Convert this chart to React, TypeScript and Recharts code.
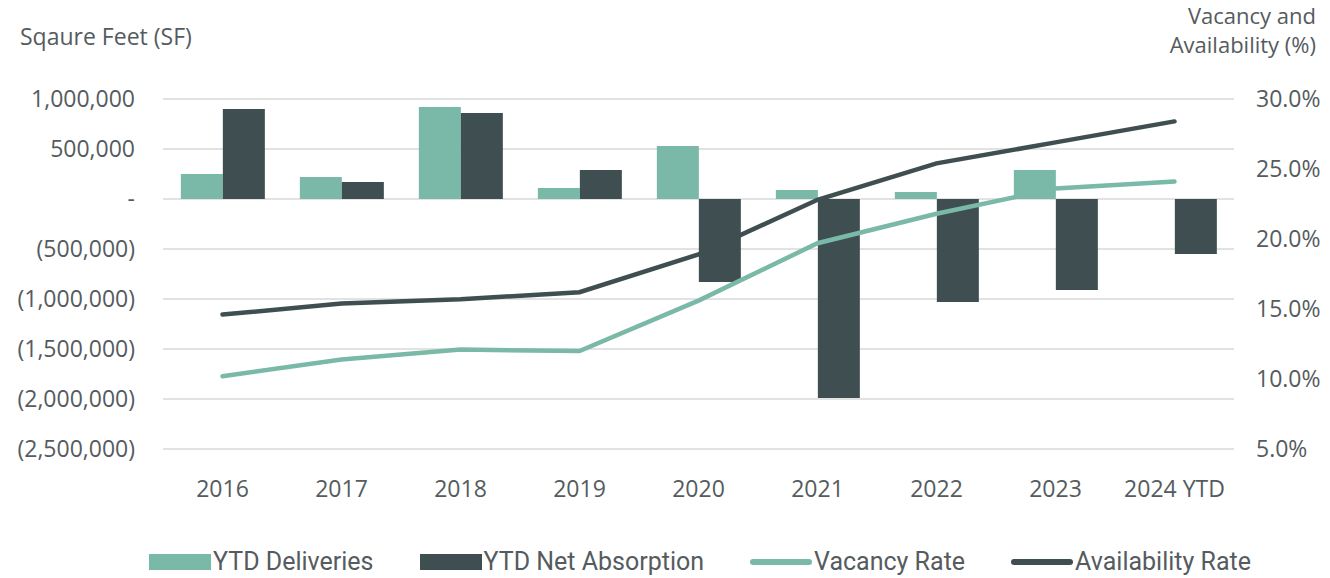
import {
  ComposedChart,
  Bar,
  Line,
  XAxis,
  YAxis,
  CartesianGrid,
  Legend,
} from 'recharts'

const years = ['2016', '2017', '2018', '2019', '2020', '2021', '2022', '2023', '2024 YTD']
const deliveries = [250000, 220000, 920000, 110000, 530000, 90000, 70000, 290000, 0]
const netAbsorption = [900000, 170000, 860000, 290000, -830000, -1990000, -1030000, -910000, -550000]
const vacancyRate = [10.2, 11.4, 12.1, 12.0, 15.6, 19.7, 21.8, 23.6, 24.1]
const availabilityRate = [14.6, 15.4, 15.7, 16.2, 18.9, 22.8, 25.4, 26.9, 28.4]

const leftTicks = [1000000, 500000, 0, -500000, -1000000, -1500000, -2000000, -2500000]
const rightTicks = [30, 25, 20, 15, 10, 5]

const TEAL = '#7ab8a7'
const DARK = '#3f4e50'
const TEXT = '#555b5e'
const FONT = '"Open Sans", "Noto Sans", sans-serif'

const data = years.map((y, i) => ({
  year: y,
  deliveries: deliveries[i],
  absorption: netAbsorption[i],
  vacancy: vacancyRate[i],
  availability: availabilityRate[i],
}))

function fmtSF(v: number) {
  if (v === 0) return '-'
  const s = Math.abs(v).toLocaleString('en-US')
  return v < 0 ? `(${s})` : s
}

const legendItems = [
  { name: 'YTD Deliveries', color: TEAL, kind: 'bar' },
  { name: 'YTD Net Absorption', color: DARK, kind: 'bar' },
  { name: 'Vacancy Rate', color: TEAL, kind: 'line' },
  { name: 'Availability Rate', color: DARK, kind: 'line' },
]

const LegendContent = () => (
  <div style={{ display: 'flex', justifyContent: 'center', gap: 46, fontFamily: 'Roboto, sans-serif', fontSize: 25, color: TEXT, paddingLeft: 70 }}>
    {legendItems.map(it => (
      <div key={it.name} style={{ display: 'flex', alignItems: 'center' }}>
        <span
          style={{
            display: 'inline-block',
            width: 62,
            height: it.kind === 'bar' ? 16 : 6,
            background: it.color,
            borderRadius: it.kind === 'line' ? 3 : 0,
            marginRight: 2,
          }}
        />
        <span>{it.name}</span>
      </div>
    ))}
  </div>
)

export default function App() {
  return (
    <div style={{ position: 'absolute', left: 0, top: 0, width: 1330, height: 578, background: '#fff' }}>
      <div style={{ position: 'absolute', left: 20, top: 20, fontFamily: FONT, fontSize: 23, color: TEXT }}>
        Sqaure Feet (SF)
      </div>
      <div style={{ position: 'absolute', right: 14, top: 1, fontFamily: FONT, fontSize: 22, color: TEXT, textAlign: 'right', lineHeight: '29px' }}>
        Vacancy and
        <br />
        Availability (%)
      </div>
      <ComposedChart
        width={1330}
        height={578}
        data={data}
        margin={{ top: 99, right: 0, left: 0, bottom: 40 }}
        barGap={0}
        barCategoryGap="15%"
      >
        <CartesianGrid vertical={false} stroke="#d9d9d9" strokeWidth={1.5} yAxisId="sf" />
        <XAxis
          dataKey="year"
          axisLine={false}
          tickLine={false}
          height={60}
          tickMargin={26}
          tick={{ fill: TEXT, fontSize: 23, fontFamily: FONT }}
        />
        <YAxis
          yAxisId="sf"
          domain={[-2500000, 1000000]}
          ticks={leftTicks}
          interval={0}
          tickFormatter={fmtSF}
          width={163}
          axisLine={false}
          tickLine={false}
          tickMargin={22}
          tick={{ fill: TEXT, fontSize: 23, fontFamily: FONT }}
        />
        <YAxis
          yAxisId="pct"
          orientation="right"
          domain={[5, 30]}
          ticks={rightTicks}
          interval={0}
          tickFormatter={(v: number) => `${v.toFixed(1)}%`}
          width={96}
          axisLine={false}
          tickLine={false}
          tickMargin={16}
          tick={{ fill: TEXT, fontSize: 23, fontFamily: FONT }}
        />
        <Legend
          content={<LegendContent />}
          wrapperStyle={{ position: 'absolute', top: 547, left: 0, width: 1330 }}
        />
        <Bar yAxisId="sf" dataKey="deliveries" name="YTD Deliveries" fill={TEAL} isAnimationActive={false} />
        <Bar yAxisId="sf" dataKey="absorption" name="YTD Net Absorption" fill={DARK} isAnimationActive={false} />
        <Line
          yAxisId="pct"
          type="linear"
          dataKey="vacancy"
          name="Vacancy Rate"
          stroke={TEAL}
          strokeWidth={4.5}
          dot={false}
          strokeLinecap="round"
          isAnimationActive={false}
        />
        <Line
          yAxisId="pct"
          type="linear"
          dataKey="availability"
          name="Availability Rate"
          stroke={DARK}
          strokeWidth={4.5}
          dot={false}
          strokeLinecap="round"
          isAnimationActive={false}
        />
      </ComposedChart>
    </div>
  )
}
